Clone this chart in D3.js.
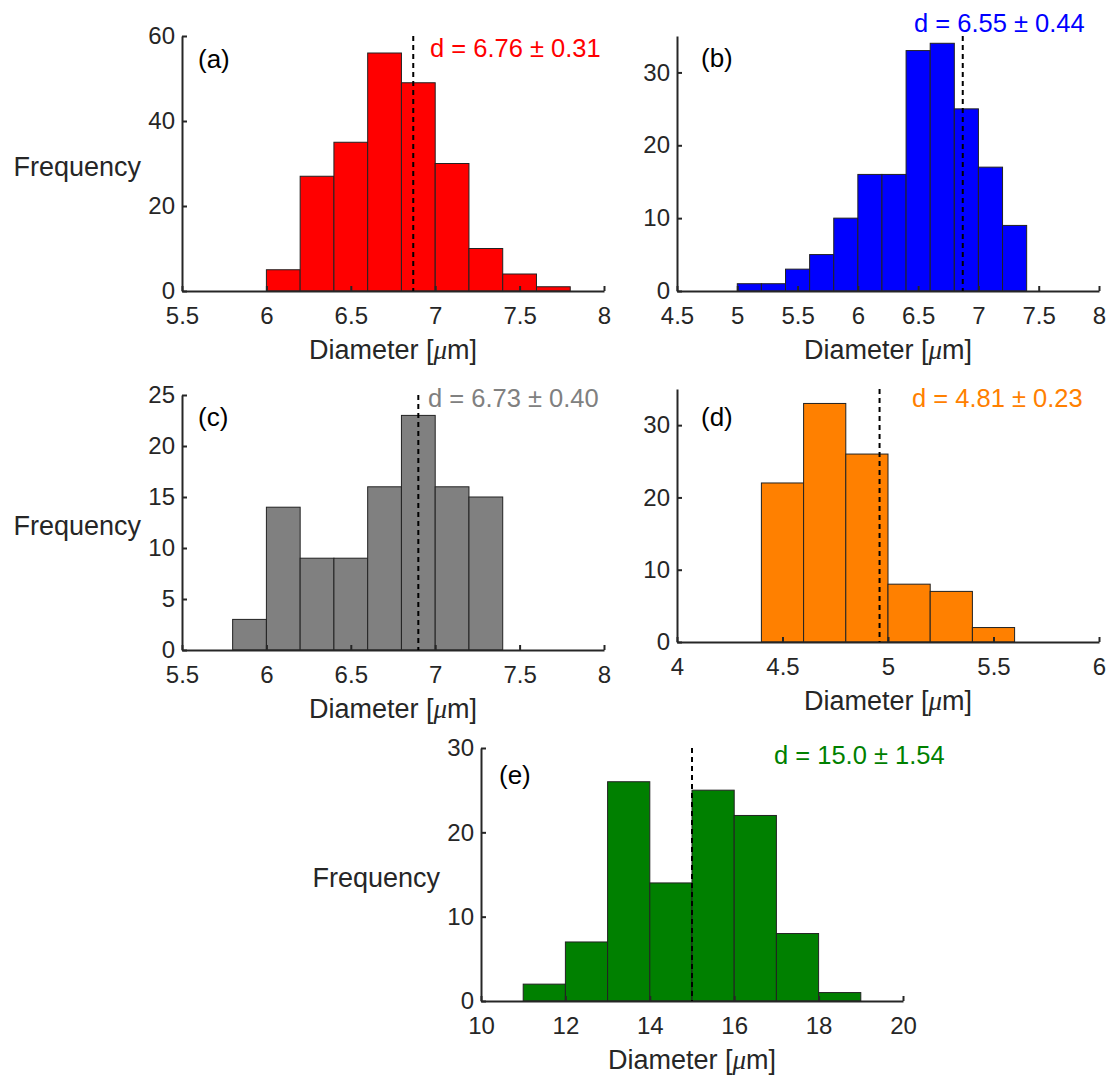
<!DOCTYPE html>
<html>
<head>
<meta charset="utf-8">
<script src="https://cdn.jsdelivr.net/npm/d3@7"></script>
<style>
    body { margin: 0; background: #fff; }
    svg { display: block; font-family: "Liberation Sans", Arial, sans-serif; }
    .tick text { fill: #262626; font-size: 24px; }
    .domain, .tick line { stroke: #262626; stroke-width: 2; }
</style>
</head>
<body>
<svg id="fig" width="1112" height="1079"></svg>
<script>
// Counts per bin
const countsA = [5, 27, 35, 56, 49, 30, 10, 4, 1];
const edgesA = [6.0, 6.2, 6.4, 6.6, 6.8, 7.0, 7.2, 7.4, 7.6, 7.8];
const countsB = [1, 1, 3, 5, 10, 16, 16, 33, 34, 25, 17, 9];
const edgesB = [5.0, 5.2, 5.4, 5.6, 5.8, 6.0, 6.2, 6.4, 6.6, 6.8, 7.0, 7.2, 7.4];
const countsC = [3, 14, 9, 9, 16, 23, 16, 15];
const edgesC = [5.8, 6.0, 6.2, 6.4, 6.6, 6.8, 7.0, 7.2, 7.4];
const countsD = [22, 33, 26, 8, 7, 2];
const edgesD = [4.4, 4.6, 4.8, 5.0, 5.2, 5.4, 5.6];
const countsE = [2, 7, 26, 14, 25, 22, 8, 1];
const edgesE = [11, 12, 13, 14, 15, 16, 17, 18, 19];

// Axis ticks and domains
const xTicksA = [5.5, 6, 6.5, 7, 7.5, 8];
const xTicksB = [4.5, 5, 5.5, 6, 6.5, 7, 7.5, 8];
const xTicksD = [4, 4.5, 5, 5.5, 6];
const xTicksE = [10, 12, 14, 16, 18, 20];
const yTicksA = [0, 20, 40, 60];
const yTicksB = [0, 10, 20, 30];
const yTicksC = [0, 5, 10, 15, 20, 25];

// Dashed marker position and annotation text
const markers = [6.87, 6.87, 6.9, 4.96, 15.0];
const notes = ['d = 6.76 \u00b1 0.31', 'd = 6.55 \u00b1 0.44', 'd = 6.73 \u00b1 0.40',
               'd = 4.81 \u00b1 0.23', 'd = 15.0 \u00b1 1.54'];
const panelTags = ['(a)', '(b)', '(c)', '(d)', '(e)'];

const svg = d3.select('#fig');

// Panel geometry (pixels) and styling
const panels = [
    { counts: countsA, edges: edgesA, xDom: [5.5, 8], xTicks: xTicksA, yDom: [0, 60], yTicks: yTicksA,
      color: '#ff0000', box: { l: 182, r: 604, t: 36, b: 291 }, ylab: true,
      note: { x: 430, y: 48 }, tag: { x: 198, y: 59 } },
    { counts: countsB, edges: edgesB, xDom: [4.5, 8], xTicks: xTicksB, yDom: [0, 35], yTicks: yTicksB,
      color: '#0000ff', box: { l: 677, r: 1099, t: 36, b: 291 }, ylab: false,
      note: { x: 914, y: 23 }, tag: { x: 701, y: 58 } },
    { counts: countsC, edges: edgesC, xDom: [5.5, 8], xTicks: xTicksA, yDom: [0, 25], yTicks: yTicksC,
      color: '#808080', box: { l: 182, r: 604, t: 395, b: 650 }, ylab: true,
      note: { x: 428, y: 398 }, tag: { x: 198, y: 417 } },
    { counts: countsD, edges: edgesD, xDom: [4, 6], xTicks: xTicksD, yDom: [0, 35], yTicks: yTicksB,
      color: '#ff8000', box: { l: 677, r: 1099, t: 389, b: 642 }, ylab: false,
      note: { x: 912, y: 398 }, tag: { x: 701, y: 417 } },
    { counts: countsE, edges: edgesE, xDom: [10, 20], xTicks: xTicksE, yDom: [0, 30], yTicks: yTicksB,
      color: '#008000', box: { l: 481, r: 903, t: 748, b: 1001 }, ylab: true,
      note: { x: 774, y: 755 }, tag: { x: 499, y: 775 } }
];

panels.forEach((p, i) => {
    const x = d3.scaleLinear().domain(p.xDom).range([p.box.l, p.box.r]);
    const y = d3.scaleLinear().domain(p.yDom).range([p.box.b, p.box.t]);
    const g = svg.append('g').attr('class', 'panel');

    // histogram bars
    g.selectAll('rect.bar')
        .data(p.counts)
        .enter()
        .append('rect')
        .attr('class', 'bar')
        .attr('x', (d, k) => x(p.edges[k]))
        .attr('width', (d, k) => x(p.edges[k + 1]) - x(p.edges[k]))
        .attr('y', d => y(d))
        .attr('height', d => y(0) - y(d))
        .attr('fill', p.color)
        .attr('stroke', '#222')
        .attr('stroke-width', 1);

    // axes, ticks pointing inward like matlab
    g.append('g')
        .attr('transform', `translate(0, ${p.box.b})`)
        .call(d3.axisBottom(x).tickValues(p.xTicks).tickFormat(d => d)
            .tickSizeInner(-5).tickSizeOuter(0).tickPadding(16));
    g.append('g')
        .attr('transform', `translate(${p.box.l}, 0)`)
        .call(d3.axisLeft(y).tickValues(p.yTicks).tickFormat(d => d)
            .tickSizeInner(-5).tickSizeOuter(0).tickPadding(7));

    // mean marker
    g.append('line')
        .attr('x1', x(markers[i])).attr('x2', x(markers[i]))
        .attr('y1', p.box.t).attr('y2', p.box.b)
        .attr('stroke', '#000').attr('stroke-width', 2)
        .attr('stroke-dasharray', '5,4');

    g.append('text')
        .attr('x', p.note.x).attr('y', p.note.y)
        .attr('dy', '0.35em')
        .attr('fill', p.color)
        .style('font-size', '25.5px')
        .text(notes[i]);

    g.append('text')
        .attr('x', p.tag.x).attr('y', p.tag.y)
        .attr('dy', '0.35em')
        .attr('fill', '#000')
        .style('font-size', '26px')
        .text(panelTags[i]);

    // x label with italic mu
    const xl = g.append('text')
        .attr('x', (p.box.l + p.box.r) / 2)
        .attr('y', p.box.b + 59)
        .attr('dy', '0.35em')
        .attr('text-anchor', 'middle')
        .attr('fill', '#262626')
        .style('font-size', '27px');
    xl.append('tspan').text('Diameter [');
    xl.append('tspan').style('font-style', 'italic').style('font-family', '"Liberation Serif", serif').text('\u03bc');
    xl.append('tspan').text('m]');

    if (p.ylab) {
        g.append('text')
            .attr('x', p.box.l - 41)
            .attr('y', (p.box.t + p.box.b) / 2 + 3)
            .attr('dy', '0.35em')
            .attr('text-anchor', 'end')
            .attr('fill', '#262626')
            .style('font-size', '27px')
            .text('Frequency');
    }
});
</script>
</body>
</html>
